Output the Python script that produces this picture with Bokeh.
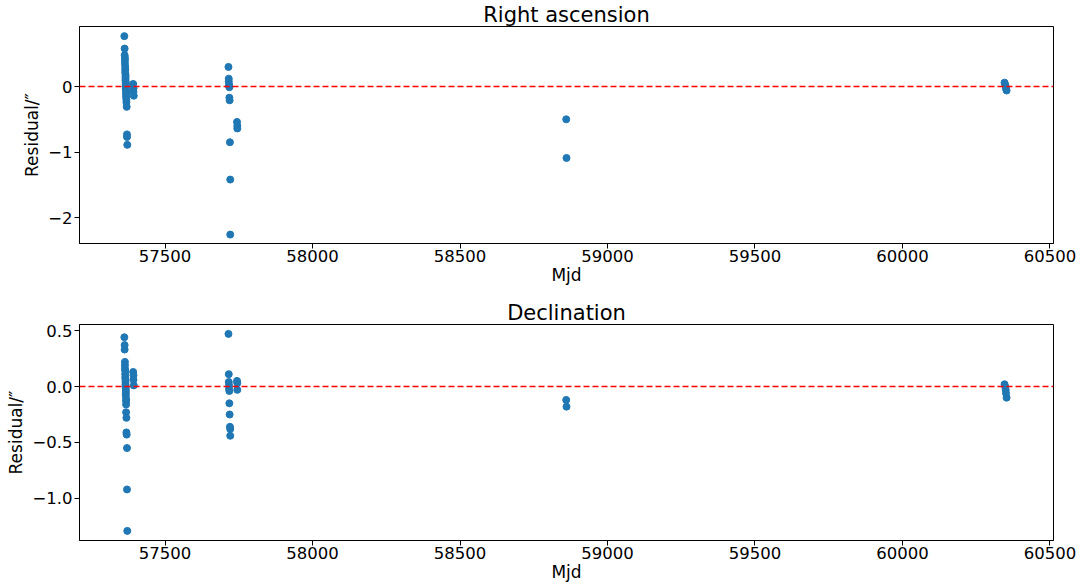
from bokeh.plotting import figure
from bokeh.layouts import column
from bokeh.models import FixedTicker, CustomJSTickFormatter, Span, Range1d
from bokeh.embed import file_html
from bokeh.resources import INLINE

# ---- data ----
mjd = [57362, 57363, 57363, 57364, 57364, 57364, 57365, 57365, 57365, 57366,
       57366, 57366, 57366, 57367, 57367, 57367, 57367, 57368, 57368, 57368,
       57368, 57369, 57369, 57370, 57371, 57371, 57372,
       57392, 57393, 57393, 57394,
       57715, 57716, 57716, 57717, 57717, 57718, 57718, 57719, 57720, 57721, 57721,
       57744, 57745, 57745,
       58860, 58861,
       60346, 60348, 60350, 60351, 60353]

ra_resid = [0.77, 0.58, 0.48, 0.44, 0.40, 0.35, 0.30, 0.26, 0.22, 0.18,
            0.15, 0.12, 0.09, 0.06, 0.03, 0.00, -0.03, -0.06, -0.09, -0.12,
            -0.16, -0.20, -0.24, -0.31, -0.73, -0.77, -0.89,
            0.04, -0.03, -0.08, -0.14,
            0.30, 0.12, 0.08, 0.03, 0.01, -0.01, -0.17, -0.21, -0.85, -1.42, -2.26,
            -0.54, -0.60, -0.64,
            -0.50, -1.09,
            0.06, 0.03, 0.00, -0.03, -0.06]

dec_resid = [0.44, 0.37, 0.33, 0.22, 0.19, 0.16, 0.14, 0.11, 0.08, 0.06,
             0.04, 0.02, 0.00, -0.02, -0.04, -0.06, -0.08, -0.11, -0.13, -0.16,
             -0.23, -0.28, -0.41, -0.43, -0.55, -0.92, -1.29,
             0.13, 0.10, 0.06, 0.01,
             0.47, 0.11, 0.04, 0.01, -0.02, -0.04, -0.15, -0.25, -0.36, -0.38, -0.44,
             0.05, 0.03, -0.03,
             -0.12, -0.18,
             0.02, 0.00, -0.03, -0.06, -0.10]

x_ticks = [57500, 58000, 58500, 59000, 59500, 60000, 60500]
ra_ticks = [-2, -1, 0]
dec_ticks = [-1.0, -0.5, 0.0, 0.5]

FONT = "DejaVu Sans"
BLUE = "#1f77b4"


def make_fig(title, height, top, y_range, y_ticks, decimals, yres):
    p = figure(width=1086, height=height, output_backend="svg", toolbar_location=None,
               x_range=Range1d(57210, 60512), y_range=Range1d(*y_range),
               min_border_left=79, min_border_right=33, min_border_top=top,
               min_border_bottom=47)
    p.title.text = title
    p.title.text_font = FONT
    p.title.text_font_size = "21px"
    p.title.text_font_style = "normal"
    p.title.text_color = "black"
    p.title.align = "center"
    p.title.standoff = 0
    p.title.text_line_height = 1.0
    p.grid.visible = False
    p.outline_line_color = "black"
    p.outline_line_width = 1
    p.background_fill_color = "white"
    p.border_fill_color = "white"
    for ax in (p.xaxis, p.yaxis):
        ax.axis_line_color = "black"
        ax.major_tick_line_color = "black"
        ax.major_tick_out = 5
        ax.major_tick_in = 0
        ax.minor_tick_line_color = None
        ax.major_label_text_font = FONT
        ax.major_label_text_font_size = "16.5px"
        ax.major_label_text_color = "black"
        ax.axis_label_text_font = FONT
        ax.axis_label_text_font_size = "17px"
        ax.axis_label_text_font_style = "normal"
        ax.axis_label_text_color = "black"
    p.xaxis.ticker = FixedTicker(ticks=x_ticks)
    p.xaxis.axis_label = "Mjd"
    p.xaxis.major_label_standoff = 1
    p.xaxis.axis_label_standoff = 0
    p.yaxis.ticker = FixedTicker(ticks=y_ticks)
    p.yaxis.formatter = CustomJSTickFormatter(
        code=f"return tick.toFixed({decimals}).replace('-', '\\u2212');")
    p.yaxis.axis_label = "Residual/\u2033"
    p.yaxis.major_label_standoff = 2
    p.yaxis.axis_label_standoff = 3
    p.add_layout(Span(location=0, dimension="width", line_color="red",
                      line_dash="6 3", line_width=1.5))
    p.scatter(mjd, yres, size=7, color=BLUE, line_color=BLUE)
    return p


p1 = make_fig("Right ascension", 290, 25, (-2.396, 0.917), ra_ticks, 0, ra_resid)
p2 = make_fig("Declination", 297, 34, (-1.376, 0.554), dec_ticks, 1, dec_resid)

layout = column(p1, p2, spacing=0)
open("out.html", "w").write(file_html(layout, INLINE))
